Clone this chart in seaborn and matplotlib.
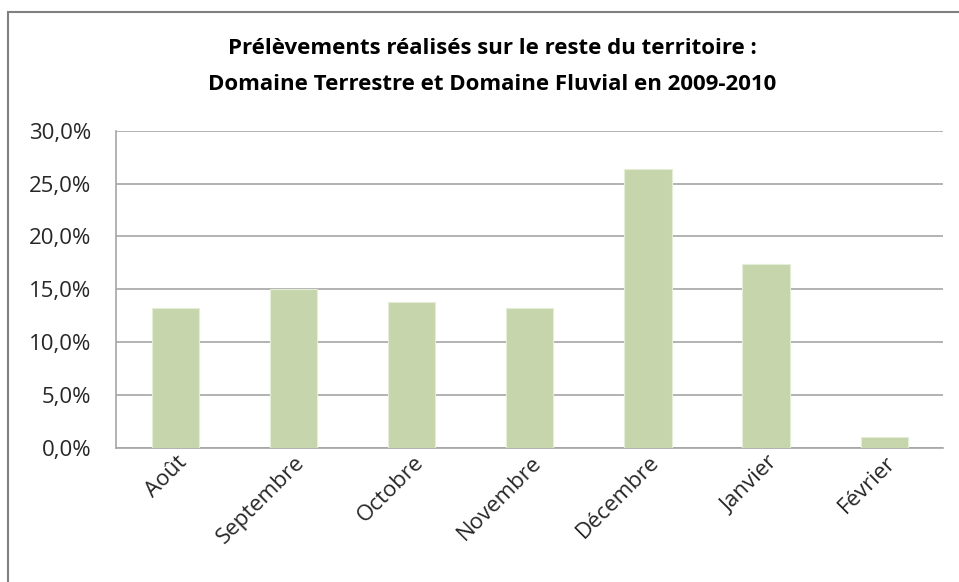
import pandas as pd
import seaborn as sns
import matplotlib.pyplot as plt
from matplotlib.patches import Rectangle
from matplotlib.ticker import FuncFormatter, MultipleLocator
from matplotlib.transforms import ScaledTranslation

# Données
mois = ['Août', 'Septembre', 'Octobre', 'Novembre', 'Décembre', 'Janvier', 'Février']
prelevements = [13.2, 15.0, 13.8, 13.2, 26.4, 17.4, 1.0]

df = pd.DataFrame({'mois': mois, 'pct': prelevements})

sns.set_theme(style='white')
plt.rcParams['font.family'] = ['Open Sans', 'DejaVu Sans']

fig = plt.figure(figsize=(9.59, 5.82), dpi=100)
ax = fig.add_axes([116.3 / 959, 1 - 447.7 / 582, (943.3 - 116.3) / 959, (447.7 - 130.7) / 582])

sns.barplot(data=df, x='mois', y='pct', color='#C6D5AB', width=0.40,
            edgecolor='#E4EDD8', linewidth=0.8, saturation=1, ax=ax, zorder=3)

ax.set_ylim(0, 30)
ax.yaxis.set_major_locator(MultipleLocator(5))
ax.yaxis.set_major_formatter(FuncFormatter(lambda v, p: f'{v:.1f}%'.replace('.', ',')))
ax.grid(axis='y', color='#A6A6A6', linewidth=1.2, zorder=0)
ax.set_axisbelow(True)

for s in ['top', 'right']:
    ax.spines[s].set_visible(False)
for s in ['left', 'bottom']:
    ax.spines[s].set_color('#A6A6A6')
    ax.spines[s].set_linewidth(1.2)

ax.set_xlabel('')
ax.set_ylabel('')
ax.tick_params(axis='y', labelsize=16, colors='#262626', pad=18, length=0)
ax.tick_params(axis='x', labelsize=16, colors='#262626', pad=3, length=0)
decal = ScaledTranslation(1 / 100, 0, fig.dpi_scale_trans)
for lab in ax.get_xticklabels():
    lab.set_rotation(45)
    lab.set_ha('right')
    lab.set_rotation_mode('anchor')
    lab.set_transform(lab.get_transform() + decal)

fig.text(0.513, 1 - 48 / 582, 'Prélèvements réalisés sur le reste du territoire :',
         ha='center', va='center', fontsize=16, fontweight='bold', color='#000000')
fig.text(0.513, 1 - 85 / 582, 'Domaine Terrestre et Domaine Fluvial en 2009-2010',
         ha='center', va='center', fontsize=16, fontweight='bold', color='#000000')

# cadre extérieur
fig.patches.append(Rectangle((8 / 959, -0.05), 1.1, 1 - 12 / 582 + 0.05,
                             transform=fig.transFigure, fill=False,
                             edgecolor='#808080', linewidth=1.5, clip_on=False))

fig.savefig('out.png', dpi=100)
plt.close()
